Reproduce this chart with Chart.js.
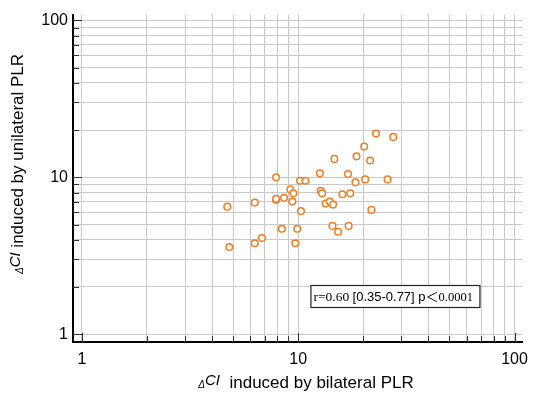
<!DOCTYPE html>
<html lang="en">
<head>
<meta charset="UTF-8">
<title>CI scatter</title>
<script src="https://cdn.jsdelivr.net/npm/chart.js"></script>
<style>
  html, body { margin: 0; padding: 0; background: #fff; }
  #wrap { width: 536px; height: 396px; }
</style>
</head>
<body>
<div id="wrap"><canvas id="scatterChart" width="536" height="396"></canvas></div>
<script>
// values (ΔCI, bilateral vs unilateral PLR)
const bilateral = [22.9, 27.5, 20.2, 14.7, 18.6, 21.5, 7.9, 12.6, 17.0, 25.9,
                   20.4, 18.4, 10.2, 10.8, 9.2, 12.7, 12.9, 9.5, 16.0, 17.4,
                   4.7, 6.3, 7.9, 7.9, 8.6, 9.4, 13.4, 14.0, 14.5, 10.3,
                   21.8, 8.4, 9.9, 14.4, 15.3, 17.1, 4.8, 6.3, 6.8, 9.7];
const unilateral = [19.0, 18.1, 15.7, 13.1, 13.6, 12.8, 10.0, 10.6, 10.5, 9.7,
                    9.7, 9.3, 9.5, 9.5, 8.4, 8.2, 7.9, 7.9, 7.8, 7.9,
                    6.5, 6.9, 7.2, 7.3, 7.4, 7.0, 6.8, 7.0, 6.7, 6.1,
                    6.2, 4.7, 4.7, 4.9, 4.5, 4.9, 3.6, 3.8, 4.1, 3.8];
const gridValues = [1, 2, 3, 4, 5, 6, 7, 8, 9, 10, 20, 30, 40, 50, 60, 70, 80, 90, 100];
const tickLabels = [1, 10, 100];
const statsParts = [
    { text: 'r=0.60 ', font: '13.5px "Liberation Serif"' },
    { text: '[0.35-0.77] p', font: '13px "Liberation Sans"' },
    { text: '＜', font: '13px "Noto Sans CJK SC"' },
    { text: '0.0001', font: '12.5px "Liberation Serif"' }
];

const SANS = '"Liberation Sans", Arial, sans-serif';

function titleParts(rest) {
    return [
        { text: 'Δ', font: 'italic 10px ' + SANS, dy: 0 },
        { text: 'CI', font: 'italic 15px ' + SANS, dy: -3 },
        { text: rest, font: '17px ' + SANS, dy: 0 }
    ];
}

// draws a row of text pieces with different fonts, centred on x
function drawRich(ctx, parts, x, y, align) {
    let total = 0;
    parts.forEach(p => { ctx.font = p.font; p.w = ctx.measureText(p.text).width; total += p.w; });
    let cx = align === 'left' ? x : x - total / 2;
    parts.forEach(p => {
        ctx.font = p.font;
        ctx.fillText(p.text, cx, y + (p.dy || 0));
        cx += p.w;
    });
    return total;
}

const innerTicks = {
    id: 'innerTicks',
    beforeDatasetsDraw(chart) {
        const ctx = chart.ctx;
        const xs = chart.scales.x, ys = chart.scales.y;
        const area = chart.chartArea;
        ctx.save();
        ctx.strokeStyle = '#333';
        ctx.lineWidth = 1;
        ctx.beginPath();
        gridValues.forEach(v => {
            const len = tickLabels.includes(v) ? 9 : 6;
            const px = Math.round(xs.getPixelForValue(v)) + 0.5;
            ctx.moveTo(px, area.bottom);
            ctx.lineTo(px, area.bottom - len);
            const py = Math.round(ys.getPixelForValue(v)) + 0.5;
            ctx.moveTo(area.left, py);
            ctx.lineTo(area.left + len, py);
        });
        ctx.stroke();
        ctx.restore();
    }
};

const titlesAndStats = {
    id: 'titlesAndStats',
    afterDraw(chart) {
        const ctx = chart.ctx;
        const area = chart.chartArea;
        ctx.save();
        ctx.fillStyle = '#000';
        ctx.textBaseline = 'alphabetic';

        // x axis title
        drawRich(ctx, titleParts('  induced by bilateral PLR'), 306, 388);

        // y axis title
        ctx.save();
        ctx.translate(23, 164);
        ctx.rotate(-Math.PI / 2);
        drawRich(ctx, titleParts(' induced by unilateral PLR'), 0, 0);
        ctx.restore();

        // correlation box
        const bx = area.right - 212, by = area.bottom - 57, bw = 169, bh = 22;
        ctx.fillStyle = '#fff';
        ctx.fillRect(bx, by, bw, bh);
        ctx.strokeStyle = '#222';
        ctx.lineWidth = 1.2;
        ctx.strokeRect(bx + 0.5, by + 0.5, bw, bh);
        ctx.fillStyle = '#000';
        drawRich(ctx, statsParts, bx + 3, by + 16, 'left');
        ctx.restore();
    }
};

function logAxis(min, max, isX) {
    return {
        type: 'logarithmic',
        min: min,
        max: max,
        afterBuildTicks: scale => { scale.ticks = gridValues.map(v => ({ value: v })); },
        afterFit: scale => {
            if (isX) scale.height = 54; else scale.width = 73;
        },
        grid: {
            color: '#c8c8c8',
            lineWidth: 1,
            drawTicks: false
        },
        border: { display: true, color: '#000', width: 2, dash: [] },
        ticks: {
            autoSkip: false,
            maxRotation: 0,
            padding: isX ? 8 : 5,
            color: '#000',
            font: { family: SANS, size: 16 },
            callback: v => tickLabels.includes(v) ? String(v) : ''
        }
    };
}

const points = bilateral.map((b, i) => ({ x: b, y: unilateral[i] }));

new Chart(document.getElementById('scatterChart'), {
    type: 'scatter',
    data: {
        datasets: [{
            data: points,
            pointRadius: 3.3,
            pointHoverRadius: 3.3,
            borderWidth: 1.5,
            borderColor: '#f47b20',
            backgroundColor: '#fff'
        }]
    },
    options: {
        responsive: false,
        animation: false,
        devicePixelRatio: 1,
        layout: { padding: { top: 5, right: 8, left: 0, bottom: 0 } },
        plugins: {
            legend: { display: false },
            tooltip: { enabled: false }
        },
        scales: {
            x: logAxis(0.91, 108.8, true),
            y: logAxis(0.892, 108.9, false)
        }
    },
    plugins: [innerTicks, titlesAndStats]
});
</script>
</body>
</html>
